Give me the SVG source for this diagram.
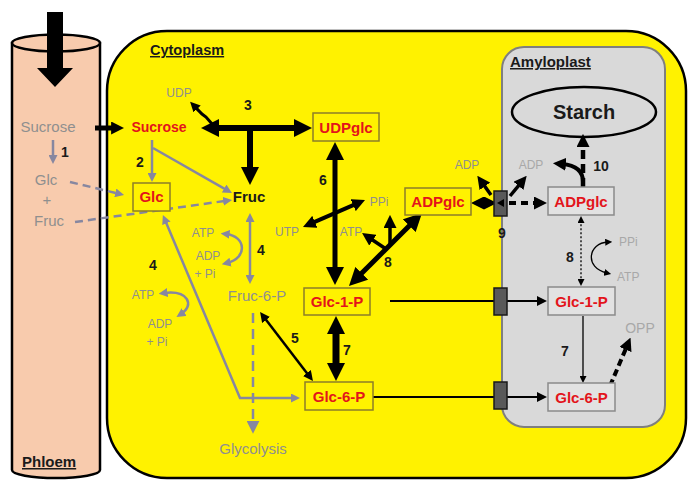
<svg xmlns="http://www.w3.org/2000/svg" width="688" height="480" viewBox="0 0 688 480">
<defs>
<style>
.t{font-family:"Liberation Sans",Arial,sans-serif}
.b{font-weight:bold}
.red{fill:#e3141b;font-weight:bold;font-size:15px}
.g{fill:#8f8f8f}
.gl{fill:#a8a8a8}
.k{fill:#1a1a1a}
.num{fill:#1a1a1a;font-weight:bold;font-size:14px}
.s12{font-size:12px}
.s15{font-size:15px}
.ybox{fill:#fff200;stroke:#8c7e2a;stroke-width:1.5}
.abox{fill:#e2e2e2;stroke:#8a8a8a;stroke-width:1.5}
.tr{fill:#595959;stroke:#1a1a1a;stroke-width:1.5}
.gln{stroke:#8787a0;fill:none;stroke-width:2.5}
.bl{stroke:#000;fill:none}
</style>
<marker id="ab" viewBox="0 0 10 10" refX="3" refY="5" markerWidth="18" markerHeight="18" markerUnits="userSpaceOnUse" orient="auto-start-reverse"><path d="M0,0L10,5L0,10z" fill="#000"/></marker>
<marker id="ab2" viewBox="0 0 10 10" refX="3" refY="5" markerWidth="13" markerHeight="13" markerUnits="userSpaceOnUse" orient="auto-start-reverse"><path d="M0,0L10,5L0,10z" fill="#000"/></marker>
<marker id="am" viewBox="0 0 10 10" refX="4" refY="5" markerWidth="10" markerHeight="10" markerUnits="userSpaceOnUse" orient="auto-start-reverse"><path d="M0,0L10,5L0,10z" fill="#000"/></marker>
<marker id="at" viewBox="0 0 10 10" refX="4" refY="5" markerWidth="7" markerHeight="7" markerUnits="userSpaceOnUse" orient="auto-start-reverse"><path d="M0,0L10,5L0,10z" fill="#000"/></marker>
<marker id="ag" viewBox="0 0 10 10" refX="4" refY="5" markerWidth="9" markerHeight="9" markerUnits="userSpaceOnUse" orient="auto-start-reverse"><path d="M0,0L10,5L0,10z" fill="#8787a0"/></marker>
<marker id="agL" viewBox="0 0 10 10" refX="4" refY="5" markerWidth="13" markerHeight="13" markerUnits="userSpaceOnUse" orient="auto-start-reverse"><path d="M0,0L10,5L0,10z" fill="#8787a0"/></marker>
</defs>
<rect width="688" height="480" fill="#ffffff"/>

<g id="phloem">
<path d="M12,43 L12,470 A44,8 0 0 0 100,470 L100,43 Z" fill="#f8cbad" stroke="#000" stroke-width="2.5"/>
<ellipse cx="56" cy="43" rx="44" ry="8.5" fill="#f8cbad" stroke="#000" stroke-width="2.5"/>
<text class="t b k s15" x="22" y="467" text-decoration="underline">Phloem</text>
</g>

<g id="cytoplasm">
<rect x="107" y="31" width="579" height="447" rx="60" ry="60" fill="#fff200" stroke="#000" stroke-width="2.5"/>
<text class="t b k" font-size="14.5" x="150" y="55" text-decoration="underline">Cytoplasm</text>
</g>

<g id="amyloplast">
<rect x="502" y="47" width="163" height="380" rx="22" ry="22" fill="#d9d9d9" stroke="#7f7f7f" stroke-width="2"/>
<text class="t b k s15" x="510" y="67" text-decoration="underline">Amyloplast</text>
</g>

<g id="starch">
<ellipse cx="584" cy="112" rx="72" ry="25" fill="none" stroke="#000" stroke-width="2.5"/>
<text class="t b k" font-size="20" x="584" y="119" text-anchor="middle">Starch</text>
</g>

<g id="connectors">
<path d="M47,12 L63,12 L63,68 L73,68 L55,87 L37,68 L47,68 Z" fill="#000"/>
<line class="bl" x1="95" y1="128" x2="115" y2="128" stroke-width="5" marker-end="url(#ab2)"/>
<line class="gln" x1="53" y1="140" x2="53" y2="158.6" marker-end="url(#ag)"/>
<line class="gln" x1="70" y1="182" x2="118.8" y2="193.7" stroke-dasharray="8 5" marker-end="url(#ag)"/>
<line class="gln" x1="75" y1="222" x2="226.7" y2="200.7" stroke-dasharray="8 5" marker-end="url(#ag)"/>
<line class="gln" x1="152" y1="140" x2="152" y2="176.6" marker-end="url(#ag)"/>
<line class="gln" x1="153" y1="148" x2="227.3" y2="190.3" marker-end="url(#ag)"/>
<line class="bl" x1="213.6" y1="128" x2="299.4" y2="128" stroke-width="6" marker-start="url(#ab)" marker-end="url(#ab)"/>
<line class="bl" x1="250" y1="128" x2="250" y2="172.4" stroke-width="6" marker-end="url(#ab)"/>
<path class="bl" d="M213,125 L206,117 L202,114 L194.3,106.1" stroke-width="3" marker-end="url(#am)"/>
<line class="bl" x1="335" y1="154.6" x2="335" y2="272.4" stroke-width="5" marker-start="url(#ab)" marker-end="url(#ab)"/>
<line class="bl" x1="311.3" y1="223.4" x2="356.7" y2="203.6" stroke-width="4" marker-start="url(#ab2)" marker-end="url(#ab2)"/>
<line class="bl" x1="357.9" y1="277.1" x2="413.1" y2="221.9" stroke-width="5" marker-start="url(#ab)" marker-end="url(#ab)"/>
<line class="bl" x1="386" y1="249" x2="369.6" y2="238" stroke-width="3.5" marker-end="url(#ab2)"/>
<line class="bl" x1="390" y1="245" x2="390" y2="224" stroke-width="3.5" marker-end="url(#ab2)"/>
<line class="bl" x1="336" y1="328.6" x2="336" y2="368.4" stroke-width="7" marker-start="url(#ab)" marker-end="url(#ab)"/>
<line class="bl" x1="263.7" y1="316.8" x2="309.3" y2="376.2" stroke-width="2.5" marker-start="url(#am)" marker-end="url(#am)"/>
<line class="gln" x1="250" y1="218.4" x2="250" y2="278.6" marker-start="url(#ag)" marker-end="url(#ag)"/>
<path class="gln" d="M226,234 C246,236 248,258 227,263" marker-start="url(#ag)" marker-end="url(#ag)"/>
<line class="gln" x1="253" y1="313" x2="253" y2="426" stroke-width="4" stroke-dasharray="10 6" marker-end="url(#agL)"/>
<path class="gln" d="M294.6,398 L240,398 L165,220" marker-start="url(#ag)" marker-end="url(#ag)"/>
<path class="gln" d="M164,293 C188,290 195,305 181,314" marker-start="url(#ag)" marker-end="url(#ag)"/>
<line class="bl" x1="390" y1="301" x2="494" y2="301" stroke-width="2.2"/>
<line class="bl" x1="507" y1="301" x2="541" y2="301" stroke-width="2.2" marker-end="url(#am)"/>
<line class="bl" x1="373" y1="397" x2="494" y2="397" stroke-width="2.2"/>
<line class="bl" x1="507" y1="397" x2="541" y2="397" stroke-width="2.2" marker-end="url(#am)"/>
<line class="bl" x1="583" y1="316" x2="583" y2="378.8" stroke-width="1.3" marker-end="url(#at)"/>
<line class="bl" x1="581" y1="220.2" x2="581" y2="281.8" stroke-width="1.3" stroke-dasharray="2 2" marker-start="url(#at)" marker-end="url(#at)"/>
<path class="bl" d="M608,242 C588,243 584,268 607,273" stroke-width="1.3" marker-start="url(#at)" marker-end="url(#at)"/>
<line class="bl" x1="480.1" y1="203" x2="487.9" y2="203" stroke-width="4" marker-start="url(#ab2)" marker-end="url(#ab2)"/>
<line class="bl" x1="491" y1="195" x2="482.6" y2="183.2" stroke-width="3.5" marker-end="url(#ab2)"/>
<line class="bl" x1="509" y1="203" x2="537.9" y2="203" stroke-width="4" stroke-dasharray="7 5" marker-end="url(#ab2)"/>
<line class="bl" x1="510" y1="196" x2="520.9" y2="182.8" stroke-width="3.5" marker-end="url(#ab2)"/>
<line class="bl" x1="583" y1="187" x2="583" y2="143" stroke-width="4.5" stroke-dasharray="9 5" marker-end="url(#ab2)"/>
<path class="bl" d="M583,182 C583,170 575,165 562,164" stroke-width="4" marker-end="url(#ab2)"/>
<line class="bl" x1="610" y1="386" x2="627" y2="346" stroke-width="4" stroke-dasharray="7 4" marker-end="url(#ab2)"/>
</g>

<g id="transporter-glc1p"><rect class="tr" x="494" y="288" width="13" height="27"/></g>
<g id="transporter-glc6p"><rect class="tr" x="494" y="382" width="13" height="27"/></g>
<g id="transporter-adpglc"><rect class="tr" x="494" y="191" width="13" height="25"/>
<path d="M497,203 L504,199 L504,207 Z" fill="#000"/></g>

<g id="phloem-sucrose"><text class="t g s15" x="48" y="132" text-anchor="middle">Sucrose</text></g>
<g id="phloem-glc"><text class="t g s15" x="46" y="185" text-anchor="middle">Glc</text>
<text class="t g s15" x="47" y="205" text-anchor="middle">+</text>
<text class="t g s15" x="49" y="226" text-anchor="middle">Fruc</text></g>

<g id="sucrose"><text class="t red" font-size="14" x="159" y="132" text-anchor="middle" style="font-size:14px">Sucrose</text></g>
<g id="udp"><text class="t g s12" x="179" y="96.5" text-anchor="middle">UDP</text></g>
<g id="glc"><rect class="ybox" x="133" y="183" width="37" height="28"/>
<text class="t red" x="151.5" y="202" text-anchor="middle">Glc</text></g>
<g id="fruc"><text class="t b k s15" x="249" y="202" text-anchor="middle">Fruc</text></g>
<g id="udpglc"><rect class="ybox" x="313" y="113" width="66" height="28"/>
<text class="t red" x="346" y="132.5" text-anchor="middle">UDPglc</text></g>
<g id="utp"><text class="t g s12" x="287" y="236" text-anchor="middle">UTP</text></g>
<g id="ppi"><text class="t g s12" x="379" y="206" text-anchor="middle">PPi</text></g>
<g id="atp-8"><text class="t g s12" x="351" y="236" text-anchor="middle">ATP</text></g>
<g id="adpglc"><rect class="ybox" x="405" y="188" width="66" height="27"/>
<text class="t red" x="438" y="207" text-anchor="middle">ADPglc</text></g>
<g id="adp-cyt"><text class="t g s12" x="467" y="169" text-anchor="middle">ADP</text></g>
<g id="atp-fruc"><text class="t g s12" x="203" y="237" text-anchor="middle">ATP</text>
<text class="t g s12" x="208" y="260" text-anchor="middle">ADP</text>
<text class="t g s12" x="205" y="278" text-anchor="middle">+ Pi</text></g>
<g id="atp-glc"><text class="t g s12" x="143" y="299" text-anchor="middle">ATP</text>
<text class="t g s12" x="160" y="328" text-anchor="middle">ADP</text>
<text class="t g s12" x="157" y="346" text-anchor="middle">+ Pi</text></g>
<g id="fruc6p"><text class="t g s15" x="257" y="301" text-anchor="middle">Fruc-6-P</text></g>
<g id="glycolysis"><text class="t g s15" x="253" y="454" text-anchor="middle">Glycolysis</text></g>
<g id="glc1p"><rect class="ybox" x="304" y="288" width="66" height="27"/>
<text class="t red" x="337" y="307" text-anchor="middle">Glc-1-P</text></g>
<g id="glc6p"><rect class="ybox" x="305" y="382" width="68" height="28"/>
<text class="t red" x="339" y="401.5" text-anchor="middle">Glc-6-P</text></g>

<g id="adp-amy"><text class="t gl s12" x="531" y="169" text-anchor="middle">ADP</text></g>
<g id="adpglc-amy"><rect class="abox" x="548" y="187" width="66" height="28"/>
<text class="t red" x="581" y="206.5" text-anchor="middle">ADPglc</text></g>
<g id="ppi-amy"><text class="t gl s12" x="619" y="246">PPi</text></g>
<g id="atp-amy"><text class="t gl s12" x="617" y="281">ATP</text></g>
<g id="glc1p-amy"><rect class="abox" x="548" y="287" width="67" height="28"/>
<text class="t red" x="581.5" y="306.5" text-anchor="middle">Glc-1-P</text></g>
<g id="glc6p-amy"><rect class="abox" x="548" y="383" width="67" height="28"/>
<text class="t red" x="581.5" y="402.5" text-anchor="middle">Glc-6-P</text></g>
<g id="opp"><text class="t gl" font-size="14" x="640" y="333" text-anchor="middle">OPP</text></g>

<g id="labels">
<text class="t num" x="65" y="157" text-anchor="middle">1</text>
<text class="t num" x="140" y="167" text-anchor="middle">2</text>
<text class="t num" x="248" y="110" text-anchor="middle">3</text>
<text class="t num" x="261" y="255" text-anchor="middle">4</text>
<text class="t num" x="153" y="270" text-anchor="middle">4</text>
<text class="t num" x="295" y="343" text-anchor="middle">5</text>
<text class="t num" x="323" y="185" text-anchor="middle">6</text>
<text class="t num" x="347" y="355" text-anchor="middle">7</text>
<text class="t num" x="388" y="267" text-anchor="middle">8</text>
<text class="t num" x="502" y="238" text-anchor="middle">9</text>
<text class="t num" x="601" y="171" text-anchor="middle">10</text>
<text class="t num" x="570" y="262" text-anchor="middle">8</text>
<text class="t num" x="565" y="356" text-anchor="middle">7</text>
</g>
</svg>
